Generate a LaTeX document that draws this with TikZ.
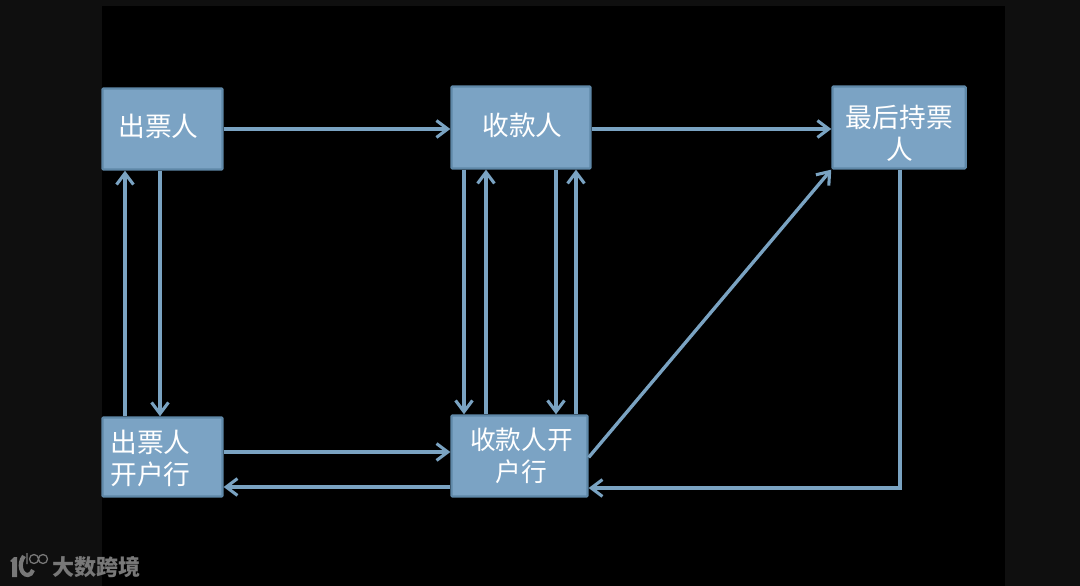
\documentclass[tikz,border=0pt]{standalone}
\usepackage{fontspec}
\setmainfont{Noto Sans CJK SC}
\usetikzlibrary{arrows.meta}
\definecolor{boxfill}{HTML}{7BA3C4}
\definecolor{boxline}{HTML}{5F88A8}
\definecolor{flowline}{HTML}{7AA3C2}
\definecolor{pagedark}{HTML}{0F0F0F}
\definecolor{markgray}{HTML}{787878}
\tikzset{
    party/.style={draw=boxline,line width=1.6pt,fill=boxfill,rounded corners=0.8pt},
    partytext/.style={text=white,inner sep=0pt,align=center,font=\fontsize{19}{23}\selectfont},
    flow/.style={draw=flowline,line width=2.4pt,-{Straight Barb[length=8pt,width=12pt,line width=2.2pt]}},
    brandmark/.style={text=markgray,font=\fontsize{15.7}{17}\selectfont\bfseries}
}
\begin{document}
\begin{tikzpicture}[x=0.025cm,y=-0.025cm]
    % Page
    \fill[pagedark] (0,0) rectangle (1080,586);
    \fill[black] (102,6) rectangle (1005,586);
    \useasboundingbox (0,0) rectangle (1080,586);
    % Boxes
    \node[party,minimum width=3cm,minimum height=2.03cm,
        label={[partytext,xshift=-2.8pt,yshift=2pt]center:出票人}] (drawer) at (162.5,129) {};
    \node[party,minimum width=3.48cm,minimum height=2.05cm,
        label={[partytext,xshift=1pt,yshift=1.4pt]center:收款人}] (payee) at (521,127.5) {};
    \node[party,minimum width=3.33cm,minimum height=2.05cm,
        label={[partytext,xshift=0.3pt,yshift=-4.2pt]center:最后持票\\人}] (holder) at (899,127.5) {};
    \node[party,minimum width=3cm,minimum height=1.98cm,
        label={[partytext,xshift=-8.5pt,yshift=-1pt]center:出票人\\开户行}] (drawerbank) at (162.5,457) {};
    \node[party,minimum width=3.4cm,minimum height=2.03cm,
        label={[partytext,font=\fontsize{18.3}{23}\selectfont,xshift=1.4pt]center:收款人开\\户行}] (payeebank) at (519.5,456) {};
    % Top row
    \draw[flow] (drawer.east |- 0,129) -- (payee.west |- 0,129);
    \draw[flow] (payee.east |- 0,129) -- (holder.west |- 0,129);
    % Left column
    \draw[flow] (125,0 |- drawerbank.north) -- (125,0 |- drawer.south);
    \draw[flow] (160,0 |- drawer.south) -- (160,0 |- drawerbank.north);
    % Middle column
    \draw[flow] (464,0 |- payee.south) -- (464,0 |- payeebank.north);
    \draw[flow] (486,0 |- payeebank.north) -- (486,0 |- payee.south);
    \draw[flow] (556,0 |- payee.south) -- (556,0 |- payeebank.north);
    \draw[flow] (576,0 |- payeebank.north) -- (576,0 |- payee.south);
    % Bottom row
    \draw[flow] (drawerbank.east |- 0,452) -- (payeebank.west |- 0,452);
    \draw[flow] (payeebank.west |- 0,487) -- (drawerbank.east |- 0,487);
    % To the last holder and back
    \draw[flow] ([yshift=-1pt]payeebank.east) -- (holder.south west);
    \draw[flow] (900,0 |- holder.south) -- (900,488) -- (payeebank.east |- 0,488);
    % Watermark
    \node[brandmark,anchor=west,inner sep=0pt] (brand) at (52,567) {大数跨境};
    \fill[markgray] (10,561) -- (14,557) -- (17,557) -- (17,577) -- (12,577) -- (12,562) -- cycle;
    \draw[markgray,line width=3pt] (24,556) .. controls (18,564) and (21,575) .. (28,575) .. controls (30,575) and (32,573) .. (33,570);
    \draw[markgray,line width=0.9pt] (27,553) -- (27,564) (34,559) circle (4.5) (43,559) circle (4.5);
\end{tikzpicture}
\end{document}
